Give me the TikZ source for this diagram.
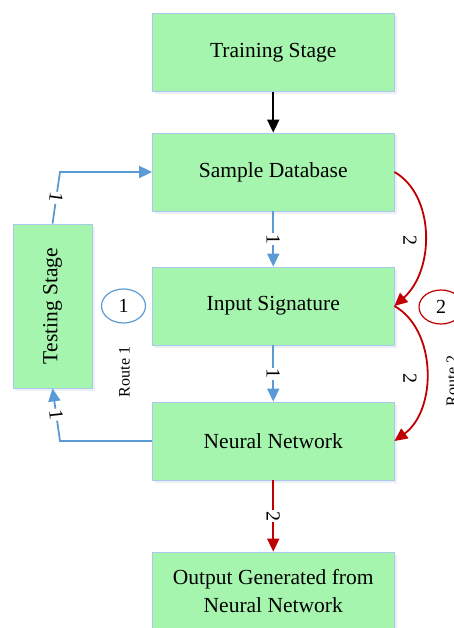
\documentclass[tikz,border=0pt]{standalone}
\usepackage{fontspec}
\setmainfont{Liberation Serif}
\usetikzlibrary{arrows.meta,shadows,shapes.geometric}
\definecolor{boxgreen}{RGB}{166,245,174}
\definecolor{boxedge}{RGB}{170,200,235}
\definecolor{lblue}{RGB}{91,155,213}
\definecolor{dred}{RGB}{192,0,0}
\begin{document}
\begin{tikzpicture}[x=1pt,y=-1pt,
  stagebox/.style={draw=boxedge, line width=0.8pt, fill=boxgreen,
    minimum width=241.5pt, minimum height=78pt, inner sep=0pt, align=center,
    font=\fontsize{21.5}{28}\selectfont,
    drop shadow={shadow xshift=2.5pt, shadow yshift=-2.5pt, opacity=0.2, fill=boxedge!70!gray}},
  conn/.style={line width=1.8pt, -{Triangle[length=13pt,width=12pt]}},
  numlbl/.style={fill=white, text=black, inner sep=1pt, font=\fontsize{20}{22}\selectfont},
  routecirc/.style={ellipse, line width=1.2pt, fill=white, text=black, minimum width=44pt,
    minimum height=34pt, inner sep=0pt, font=\fontsize{20}{22}\selectfont},
  routetxt/.style={rotate=90, inner sep=0pt, font=\fontsize{16}{18}\selectfont}
]
\useasboundingbox (0,0) rectangle (453,628);

\node[stagebox] (tr) at (273.25,52.5) {Training Stage};
\node[stagebox] (sd) at (273.25,172) {Sample Database};
\node[stagebox] (is) at (273.25,306) {Input Signature};
\node[stagebox] (nn) at (273.25,441) {Neural Network};
\node[stagebox] (out) at (273.25,591) {Output Generated from\\Neural Network};
\node[stagebox, minimum width=79pt, minimum height=164pt] (ts) at (52.5,306) {\rotatebox{90}{Testing Stage}};

\draw[conn, black] (tr) -- (sd);
\draw[conn, lblue] (sd) -- node[numlbl, rotate=-90] {1} (is);
\draw[conn, lblue] (is) -- node[numlbl, rotate=-90] {1} (nn);
\draw[conn, dred] (nn) -- node[numlbl, rotate=-90] {2} (out);

\coordinate (tc1) at (60,172);
\coordinate (tc2) at (60,441);
\draw[conn, lblue] (ts.north) -- node[numlbl, rotate=-98] {1} (tc1) -- (sd.west);
\draw[conn, lblue] (nn.west) -- (tc2) -- node[numlbl, rotate=-84] {1} (ts.south);

\draw[conn, dred] (sd.east) .. controls (435,195) and (435,270) .. (is.east);
\draw[conn, dred] (is.east) .. controls (437,330) and (437,410) .. (nn.east);
\node[numlbl, fill=none, rotate=-90] (l2a) at (410,240) {2};
\node[numlbl, fill=none, rotate=-90] (l2b) at (410,378) {2};

\node[routecirc, draw=lblue] (r1) at (123.5,306) {1};
\node[routecirc, draw=dred] (r2) at (441,307) {2};
\node[routetxt] (rt1) at (124.5,372) {Route 1};
\node[routetxt] (rt2) at (452,381) {Route 2};
\end{tikzpicture}
\end{document}
